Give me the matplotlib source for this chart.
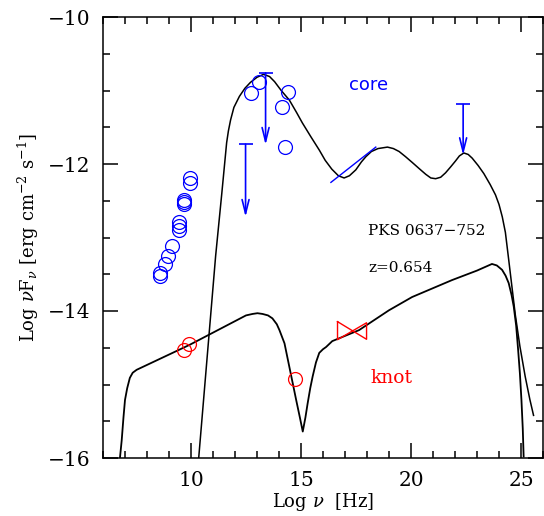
import numpy as np
import matplotlib
matplotlib.use("Agg")
import matplotlib.pyplot as plt
from matplotlib.ticker import MultipleLocator

plt.rcParams['font.family'] = ['DejaVu Serif']
plt.rcParams['mathtext.fontset'] = 'dejavuserif'

# core model curve (log nu, log nuFnu)
core_x = [10.35, 11.12, 11.4, 11.62, 11.7, 11.8, 11.95, 12.2, 12.45, 12.7,
          13.0, 13.3, 13.57, 13.8, 14.1, 14.47, 14.8, 15.06, 15.45, 15.83,
          16.1, 16.4, 16.7, 16.96, 17.2, 17.49, 17.75, 17.95, 18.2, 18.5,
          18.93, 19.2, 19.46, 19.75, 20.06, 20.4, 20.67, 20.9, 21.12, 21.35,
          21.57, 21.8, 22.02, 22.2, 22.4, 22.6, 22.78, 23.05, 23.31, 23.6,
          23.84, 24.0, 24.15, 24.29, 24.44, 24.6, 24.74, 24.95, 25.19, 25.4,
          25.57]
core_y = [-16.0, -13.25, -12.4, -11.71, -11.55, -11.4, -11.23, -11.08, -10.97, -10.89,
          -10.82, -10.78, -10.81, -10.88, -11.0, -11.13, -11.3, -11.44, -11.63, -11.81,
          -11.95, -12.07, -12.16, -12.19, -12.16, -12.08, -11.97, -11.9, -11.83, -11.79,
          -11.77, -11.79, -11.83, -11.9, -11.98, -12.07, -12.14, -12.19, -12.2, -12.18,
          -12.12, -12.04, -11.96, -11.89, -11.85, -11.87, -11.92, -12.02, -12.13, -12.28,
          -12.42, -12.55, -12.72, -12.93, -13.3, -13.7, -14.05, -14.48, -14.89, -15.2,
          -15.42]

# knot model curve
knot_x = [6.77, 6.85, 6.93, 7.0, 7.1, 7.22, 7.35, 7.53, 9.94, 12.5,
          12.8, 13.02, 13.25, 13.5, 13.7, 13.9, 14.02, 14.25, 14.47, 14.65,
          14.78, 14.95, 15.08, 15.2, 15.3, 15.42, 15.53, 15.68, 15.83, 16.0,
          16.14, 16.42, 17.64, 19.0, 20.05, 21.86, 23.0, 23.68, 23.9, 24.14,
          24.3, 24.44, 24.57, 24.67, 24.78, 24.87, 24.95, 25.02, 25.08, 25.12]
knot_y = [-16.0, -15.76, -15.45, -15.21, -15.05, -14.91, -14.84, -14.8, -14.46, -14.06,
          -14.04, -14.03, -14.04, -14.06, -14.1, -14.18, -14.26, -14.44, -14.76, -15.02,
          -15.21, -15.45, -15.64, -15.45, -15.26, -15.05, -14.89, -14.7, -14.57, -14.52,
          -14.49, -14.41, -14.26, -13.99, -13.81, -13.58, -13.45, -13.36, -13.38, -13.44,
          -13.52, -13.62, -13.78, -13.94, -14.2, -14.53, -14.85, -15.21, -15.6, -15.98]

# core data points
core_pts_x = [8.61, 8.61, 8.81, 8.96, 9.14, 9.44, 9.44, 9.44, 9.68, 9.68, 9.68,
              9.94, 9.94, 12.71, 13.11, 14.4, 14.14, 14.25]
core_pts_y = [-13.48, -13.52, -13.36, -13.25, -13.12, -12.79, -12.84, -12.9, -12.49,
              -12.52, -12.54, -12.19, -12.26, -11.04, -10.89, -11.02, -11.23, -11.77]

# core upper limits
ul_x = [12.48, 13.39, 22.37]
ul_top = [-11.73, -10.76, -11.19]
ul_tip = [-12.72, -11.74, -11.88]

# core X-ray spectrum
xray_x = [16.36, 18.4]
xray_y = [-12.25, -11.77]

# knot data
knot_pts_x = [9.67, 9.9, 14.74]
knot_pts_y = [-14.53, -14.45, -14.93]

# knot X-ray bowtie
bow_x = [16.66, 17.98]
bow_top = [-14.145, -14.16]
bow_bot = [-14.39, -14.385]

fig = plt.figure(figsize=(5.44, 5.16), dpi=100)
ax = fig.add_axes([103/544, 58/516, 440/544, 441/516])

ax.plot(core_x, core_y, color='black', lw=1.1)
ax.plot(knot_x, knot_y, color='black', lw=1.3)

ax.plot(core_pts_x, core_pts_y, 'o', ms=10, mfc='none', mec='blue', mew=0.9)
ax.plot(knot_pts_x, knot_pts_y, 'o', ms=10, mfc='none', mec='red', mew=0.9)

for x, top, tip in zip(ul_x, ul_top, ul_tip):
    ax.annotate('', xy=(x, tip), xytext=(x, top),
                arrowprops=dict(arrowstyle='->,head_length=1.0,head_width=0.25',
                                color='blue', lw=1.2, shrinkA=0, shrinkB=0))
ax.plot(ul_x, ul_top, '_', ms=10, mew=1.2, color='blue')

ax.plot(xray_x, xray_y, color='blue', lw=1.0)

bx = [bow_x[0], bow_x[1], bow_x[1], bow_x[0], bow_x[0]]
by = [bow_top[0], bow_bot[1], bow_top[1], bow_bot[0], bow_top[0]]
ax.plot(bx, by, color='red', lw=1.0)

ax.text(18.05, -10.93, 'core', color='blue', fontsize=13, family='DejaVu Sans',
        ha='center', va='center')
ax.text(19.1, -14.91, 'knot', color='red', fontsize=13.5, ha='center', va='center')
ax.text(18.05, -12.91, 'PKS 0637\u2212752', fontsize=11, ha='left', va='center')
ax.text(18.05, -13.42, 'z=0.654', fontsize=11, ha='left', va='center')

ax.set_xlim(6, 26)
ax.set_ylim(-16, -10)
ax.xaxis.set_major_locator(MultipleLocator(5))
ax.xaxis.set_minor_locator(MultipleLocator(1))
ax.yaxis.set_major_locator(MultipleLocator(2))
ax.yaxis.set_minor_locator(MultipleLocator(0.5))
ax.tick_params(which='both', direction='in', top=True, right=True, width=1.1)
ax.tick_params(which='major', length=11, labelsize=14.5, pad=9)
ax.tick_params(which='minor', length=5)
for s in ax.spines.values():
    s.set_linewidth(1.1)

ax.set_xlabel(r'Log $\nu$  [Hz]', fontsize=13, labelpad=1)
ax.set_ylabel(r'Log $\nu$F$_\nu$ [erg cm$^{-2}$ s$^{-1}$]', fontsize=13, labelpad=5)

fig.savefig('out.png', dpi=100)
